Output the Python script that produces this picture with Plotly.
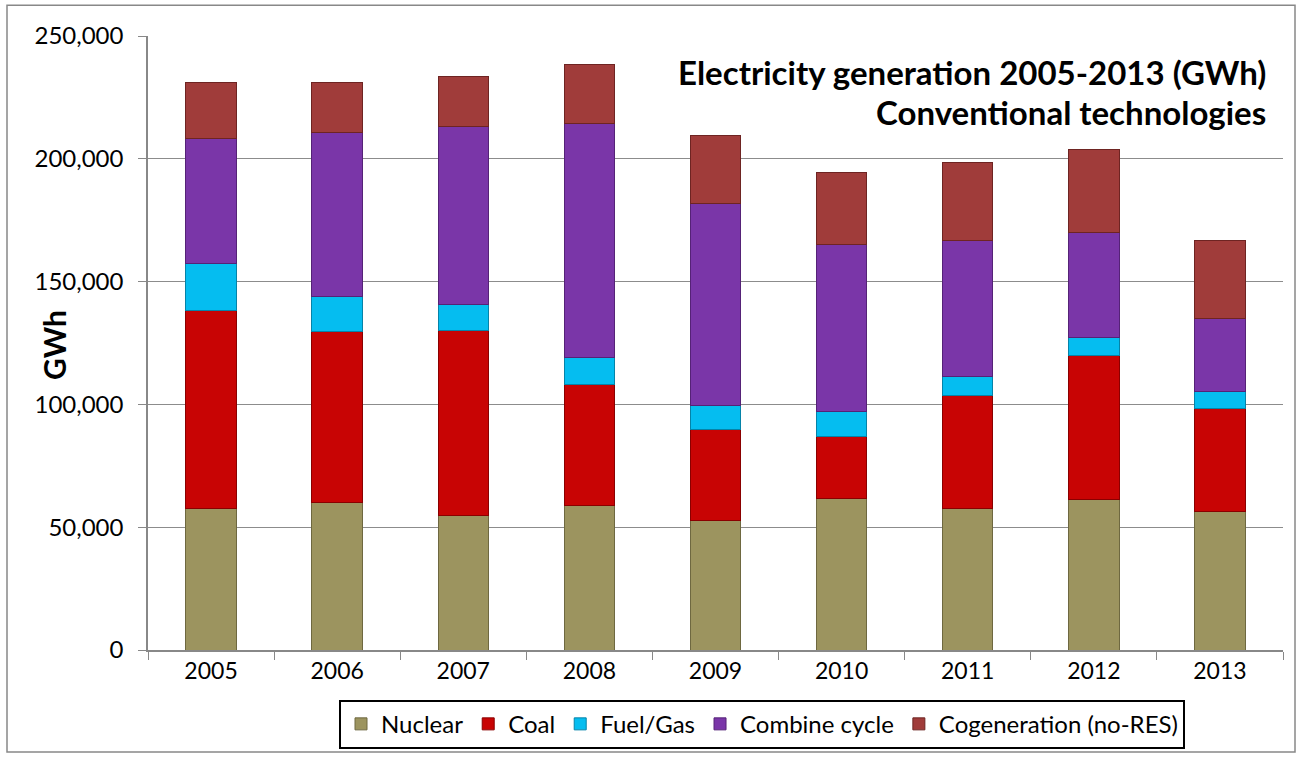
import plotly.graph_objects as go

years = ["2005", "2006", "2007", "2008", "2009", "2010", "2011", "2012", "2013"]
nuclear = [57500, 60200, 54800, 58900, 52600, 61800, 57500, 61200, 56200]
coal = [80700, 69400, 75300, 49300, 37200, 25300, 46000, 58600, 42300]
fuel_gas = [19300, 14200, 10700, 10900, 9900, 9900, 7800, 7600, 6700]
combine_cycle = [50800, 67000, 72200, 95400, 82300, 68300, 55400, 42600, 29600]
cogeneration = [22600, 20100, 20700, 23700, 27400, 29200, 31600, 33800, 32000]

series = [
    ("Nuclear", nuclear, "#9C945F", "#6E6840"),
    ("Coal", coal, "#C80404", "#8A0000"),
    ("Fuel/Gas", fuel_gas, "#05BDF0", "#0583A8"),
    ("Combine cycle", combine_cycle, "#7A36A8", "#552277"),
    ("Cogeneration (no-RES)", cogeneration, "#A03C3A", "#6E2422"),
]

FONT = "Lato"
fig = go.Figure()
for name, vals, col, edge in series:
    fig.add_trace(go.Bar(
        x=years, y=vals, name=name,
        marker=dict(color=col, line=dict(color=edge, width=1)),
    ))

W, H = 1297, 761
L, R, T, B = 148, 14, 36, 105
pw, ph = W - L - R, H - T - B

def px(x):
    return (x - L) / pw

def py(y):
    return (H - B - y) / ph

fig.update_layout(
    width=W, height=H,
    margin=dict(l=L, r=R, t=T, b=B),
    barmode="stack", bargap=0.6,
    paper_bgcolor="white", plot_bgcolor="white",
    font=dict(family=FONT, color="black"),
    showlegend=True,
    legend=dict(
        orientation="h", x=px(762), y=py(731), xanchor="center", yanchor="middle",
        bordercolor="black", borderwidth=2, bgcolor="white",
        font=dict(size=24, family=FONT), traceorder="normal",
        itemwidth=30, tracegroupgap=0,
    ),
    xaxis=dict(
        showline=True, linecolor="#888888", linewidth=1.5,
        ticks="outside", ticklen=8, tickcolor="#888888", tickson="boundaries",
        tickfont=dict(size=23, family=FONT),
        showgrid=False,
    ),
    yaxis=dict(
        range=[0, 250000], tickvals=[0, 50000, 100000, 150000, 200000, 250000],
        tickformat=",d",
        showline=True, linecolor="#888888", linewidth=1.5,
        ticks="outside", ticklen=8, tickcolor="#888888",
        ticklabelstandoff=10,
        tickfont=dict(size=24, family=FONT),
        showgrid=True, gridcolor="#8C8C8C", gridwidth=1,
        zeroline=False,
    ),
    annotations=[
        dict(text="<b>GWh</b>", x=px(54), y=py(348), textangle=-90,
             xref="paper", yref="paper", xanchor="center", yanchor="middle",
             showarrow=False, font=dict(size=30, family=FONT, color="black")),
        dict(text="<b>Electricity generation 2005-2013 (GWh)</b>", x=px(1268), y=py(72),
             xref="paper", yref="paper", xanchor="right", yanchor="middle",
             showarrow=False, font=dict(size=33, family=FONT, color="black")),
        dict(text="<b>Conventional technologies</b>", x=px(1268), y=py(113),
             xref="paper", yref="paper", xanchor="right", yanchor="middle",
             showarrow=False, font=dict(size=33, family=FONT, color="black")),
    ],
    shapes=[
        dict(type="rect", xref="paper", yref="paper",
             x0=px(7), x1=px(1295), y0=py(759), y1=py(5),
             line=dict(color="#888888", width=1.5), fillcolor="rgba(0,0,0,0)", layer="below"),
    ],
)

fig.write_html("out.html")
